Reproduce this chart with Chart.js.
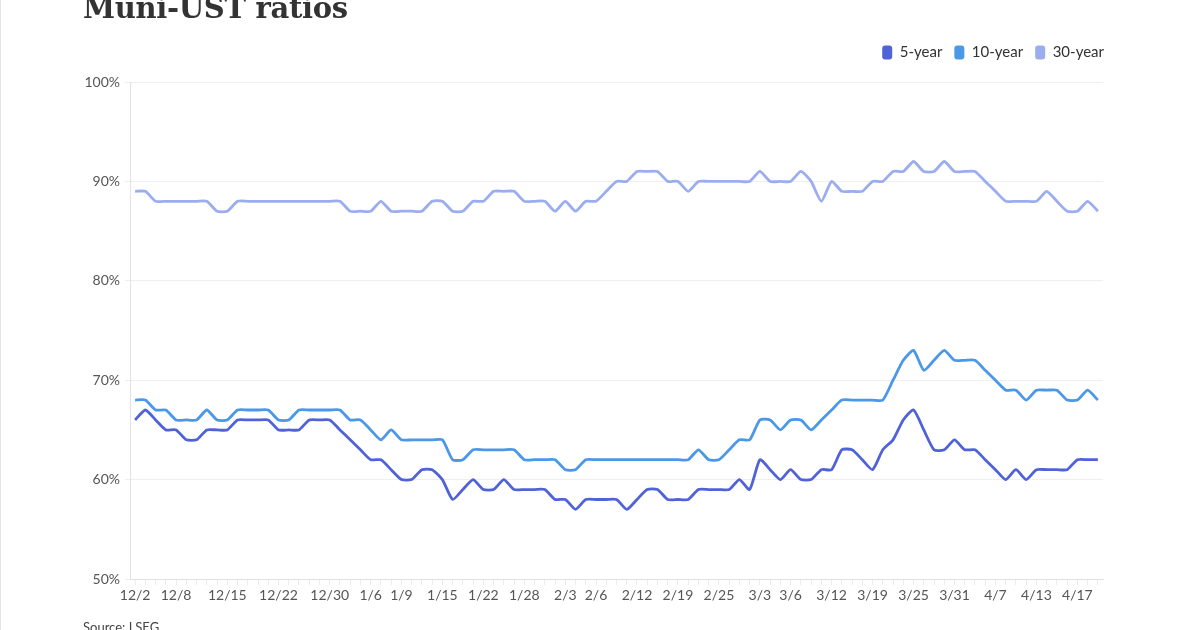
<!DOCTYPE html>
<html>
<head>
<meta charset="utf-8">
<script src="https://cdn.jsdelivr.net/npm/chart.js@4.4.1/dist/chart.umd.min.js"></script>
<style>
  html, body { margin: 0; padding: 0; background: #fff; }
  #wrap { position: relative; width: 1200px; height: 630px; overflow: hidden; border-left: 1px solid #e4e4e4; box-sizing: border-box; }
  #title { position: absolute; left: 82px; top: -9px; font-family: "DejaVu Serif", serif; font-weight: bold; font-size: 29px; color: #333; letter-spacing: -0.3px; }
  #source { position: absolute; left: 82px; top: 619px; font-family: Lato, sans-serif; font-size: 13px; color: #444; }
  canvas { position: absolute; left: 0; top: 0; }
</style>
</head>
<body>
<div id="wrap">
  <canvas id="canvas" width="1200" height="630"></canvas>
  <div id="title">Muni-UST ratios</div>
  <div id="source">Source: LSEG</div>
</div>
<script>
// business days, 12/2 to 4/21
const dates = [
  '12/2','12/3','12/4','12/5','12/8','12/9','12/10','12/11','12/12','12/15',
  '12/16','12/17','12/18','12/19','12/22','12/23','12/24','12/26','12/29','12/30',
  '12/31','1/2','1/5','1/6','1/7','1/8','1/9','1/12','1/13','1/14',
  '1/15','1/16','1/20','1/21','1/22','1/23','1/26','1/27','1/28','1/29',
  '1/30','2/2','2/3','2/4','2/5','2/6','2/9','2/10','2/11','2/12',
  '2/13','2/17','2/18','2/19','2/20','2/23','2/24','2/25','2/26','2/27',
  '3/2','3/3','3/4','3/5','3/6','3/9','3/10','3/11','3/12','3/16',
  '3/17','3/18','3/19','3/20','3/23','3/24','3/25','3/26','3/27','3/30',
  '3/31','4/1','4/2','4/6','4/7','4/8','4/9','4/10','4/13','4/14',
  '4/15','4/16','4/17','4/20','4/21'
];

const shownLabels = ['12/2','12/8','12/15','12/22','12/30','1/6','1/9','1/15','1/22','1/28',
  '2/3','2/6','2/12','2/19','2/25','3/3','3/6','3/12','3/19','3/25','3/31','4/7','4/13','4/17'];

const fiveYear = [
  66,67,66,65,65,64,64,65,65,65,
  66,66,66,66,65,65,65,66,66,66,
  65,64,63,62,62,61,60,60,61,61,
  60,58,59,60,59,59,60,59,59,59,
  59,58,58,57,58,58,58,58,57,58,
  59,59,58,58,58,59,59,59,59,60,
  59,62,61,60,61,60,60,61,61,63,
  63,62,61,63,64,66,67,65,63,63,
  64,63,63,62,61,60,61,60,61,61,
  61,61,62,62,62
];

const tenYear = [
  68,68,67,67,66,66,66,67,66,66,
  67,67,67,67,66,66,67,67,67,67,
  67,66,66,65,64,65,64,64,64,64,
  64,62,62,63,63,63,63,63,62,62,
  62,62,61,61,62,62,62,62,62,62,
  62,62,62,62,62,63,62,62,63,64,
  64,66,66,65,66,66,65,66,67,68,
  68,68,68,68,70,72,73,71,72,73,
  72,72,72,71,70,69,69,68,69,69,
  69,68,68,69,68
];

const thirtyYear = [
  89,89,88,88,88,88,88,88,87,87,
  88,88,88,88,88,88,88,88,88,88,
  88,87,87,87,88,87,87,87,87,88,
  88,87,87,88,88,89,89,89,88,88,
  88,87,88,87,88,88,89,90,90,91,
  91,91,90,90,89,90,90,90,90,90,
  90,91,90,90,90,91,90,88,90,89,
  89,89,90,90,91,91,92,91,91,92,
  91,91,91,90,89,88,88,88,88,89,
  88,87,87,88,87
];

const seriesNames = ['5-year', '10-year', '30-year'];
const seriesColors = ['#4f62d7', '#4b97e8', '#9badef'];

const tickFont = { family: 'Lato', size: 14 };

function makeDataset(i, values) {
  return {
    label: seriesNames[i],
    data: values,
    borderColor: seriesColors[i],
    backgroundColor: seriesColors[i],
    borderWidth: 2.8,
    pointRadius: 0,
    tension: 0.2,
    fill: false
  };
}

// leave some extra space under the legend
const legendGap = {
  id: 'legendGap',
  beforeInit(chart) {
    const fit = chart.legend.fit;
    chart.legend.fit = function() {
      fit.bind(chart.legend)();
      this.height += 12;
    };
  }
};

const ctx = document.getElementById('canvas');
const myChart = new Chart(ctx, {
  type: 'line',
  data: {
    labels: dates,
    datasets: [
      makeDataset(0, fiveYear),
      makeDataset(1, tenYear),
      makeDataset(2, thirtyYear)
    ]
  },
  plugins: [legendGap],
  options: {
    responsive: false,
    animation: false,
    layout: { padding: { top: 33, right: 85, bottom: 0, left: 0 } },
    plugins: {
      tooltip: { enabled: false },
      legend: {
        align: 'end',
        labels: {
          boxWidth: 10,
          boxHeight: 14,
          padding: 12,
          color: '#333',
          font: { family: 'Lato', size: 15 },
          generateLabels: function(chart) {
            const items = Chart.defaults.plugins.legend.labels.generateLabels(chart);
            items.forEach(function(it) {
              it.lineWidth = 0;
              it.borderRadius = 3;
            });
            return items;
          }
        }
      }
    },
    scales: {
      x: {
        offset: true,
        grid: { offset: false, drawOnChartArea: false, tickLength: 6, color: '#ececec' },
        border: { color: '#e2e2e2' },
        ticks: {
          autoSkip: false,
          maxRotation: 0,
          padding: 2,
          color: '#555',
          font: tickFont,
          callback: function(val, idx) {
            const l = dates[idx];
            return shownLabels.includes(l) ? l : '';
          }
        },
        afterFit: function(s) { s.height = 51; }
      },
      y: {
        min: 50,
        max: 100,
        grid: { color: '#efefef', tickLength: 5 },
        border: { display: true, color: '#e2e2e2' },
        ticks: {
          stepSize: 10,
          padding: 5,
          color: '#555',
          font: tickFont,
          callback: function(v) { return v + '%'; }
        },
        afterFit: function(s) { s.width = 129; }
      },
      // empty axis on the right, only to leave room so the legend sits further right
      yRight: {
        position: 'right',
        grid: { display: false },
        border: { display: false },
        ticks: { display: false },
        afterFit: function(s) { s.width = 13; }
      }
    }
  }
});
</script>
</body>
</html>
